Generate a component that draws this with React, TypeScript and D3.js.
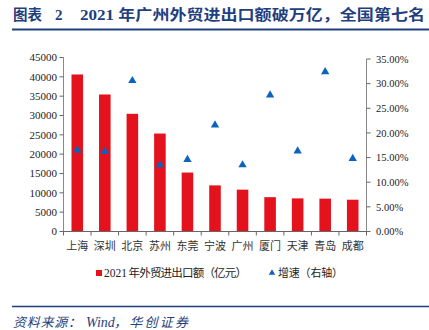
import React from "react";
import * as d3 from "d3";

const categories = ["上海", "深圳", "北京", "苏州", "东莞", "宁波", "广州", "厦门", "天津", "青岛", "成都"];
const tradeValues = [40610, 35435, 30438, 25332, 15247, 11926, 10825, 8877, 8567, 8498, 8222];
const growthRates = [16.5, 16.2, 30.6, 13.5, 14.6, 21.6, 13.5, 27.7, 16.3, 32.4, 14.8];
const leftTicks = [0, 5000, 10000, 15000, 20000, 25000, 30000, 35000, 40000, 45000];
const rightTicks = [0, 5, 10, 15, 20, 25, 30, 35];

const W = 429;
const H = 330;
const plotLeft = 63.5;
const plotRight = 366.5;
const plotTop = 57.5;
const plotBottom = 231.5;

const BLUE_TITLE = "#1F3F7E";
const RED = "#E3121C";
const TRI = "#0A64BE";

export default function App() {
  const x = d3.scaleBand<string>().domain(categories).range([plotLeft, plotRight]).paddingInner(0.58).paddingOuter(0.29);
  const yL = d3.scaleLinear().domain([0, 45000]).range([plotBottom, plotTop]);
  const yR = d3.scaleLinear().domain([0, 35]).range([plotBottom, 59]);
  const tri = d3.symbol().type(d3.symbolTriangle).size(30)();
  const serif = "'Liberation Serif', 'DejaVu Serif', serif";
  const cjk = "'Noto Sans CJK SC', sans-serif";
  const bandStep = (plotRight - plotLeft) / categories.length;

  return (
    <svg width={W} height={H} style={{ position: "absolute", left: 0, top: 0, background: "#fff" }}>
      {/* Title */}
      <text x={13} y={20} fill={BLUE_TITLE} fontFamily={cjk} fontWeight={700} fontSize={14.5}>图表</text>
      <text x={55} y={20} fill={BLUE_TITLE} fontFamily={serif} fontWeight={700} fontSize={15}>2</text>
      <text x={80} y={20} fill={BLUE_TITLE} fontFamily={cjk} fontWeight={700} fontSize={14.5} textLength={345} lengthAdjust="spacingAndGlyphs">
        <tspan fontFamily={serif}>2021 </tspan>年广州外贸进出口额破万亿，全国第七名
      </text>
      <line x1={12} x2={429} y1={29.5} y2={29.5} stroke={BLUE_TITLE} strokeWidth={2} />

      {/* Bars */}
      {categories.map((c, i) => (
        <rect key={c} x={x(c)} y={yL(tradeValues[i])} width={x.bandwidth()} height={plotBottom - yL(tradeValues[i])} fill={RED} />
      ))}

      {/* Left axis */}
      <line x1={plotLeft} x2={plotLeft} y1={plotTop} y2={plotBottom} stroke="#888" strokeWidth={1} />
      {leftTicks.map((t) => (
        <g key={t}>
          <line x1={plotLeft - 4} x2={plotLeft} y1={yL(t)} y2={yL(t)} stroke="#666" />
          <text x={57} y={yL(t)} dy="0.35em" textAnchor="end" fontFamily={serif} fontSize={11} fill="#222">{t}</text>
        </g>
      ))}

      {/* Right axis */}
      <line x1={plotRight} x2={plotRight} y1={yR(35)} y2={plotBottom} stroke="#888" strokeWidth={1} />
      {rightTicks.map((t) => (
        <g key={t}>
          <line x1={plotRight} x2={plotRight + 4} y1={yR(t)} y2={yR(t)} stroke="#666" />
          <text x={376} y={yR(t)} dy="0.35em" textAnchor="start" fontFamily={serif} fontSize={10.5} fill="#222">{t.toFixed(2)}%</text>
        </g>
      ))}

      {/* X axis */}
      <line x1={plotLeft - 2} x2={plotRight + 2} y1={plotBottom} y2={plotBottom} stroke="#666" strokeWidth={1} />
      {d3.range(categories.length + 1).map((i) => (
        <line key={i} x1={plotLeft + i * bandStep} x2={plotLeft + i * bandStep} y1={plotBottom} y2={plotBottom + 4} stroke="#666" />
      ))}
      {categories.map((c) => (
        <text key={c} x={(x(c) as number) + x.bandwidth() / 2} y={246} dy="0.35em" textAnchor="middle" fontFamily={cjk} fontSize={11} fill="#333">{c}</text>
      ))}

      {/* Triangles */}
      {categories.map((c, i) => (
        <path key={c} d={tri as string} transform={`translate(${(x(c) as number) + x.bandwidth() / 2},${yR(growthRates[i])})`} fill={TRI} />
      ))}

      {/* Legend */}
      <rect x={96} y={270} width={6} height={6} fill={RED} />
      <text x={104} y={273} dy="0.35em" fontFamily={serif} fontSize={11.5} fill="#222">2021</text>
      <text x={128.5} y={273} dy="0.35em" fontFamily={cjk} fontSize={11.5} fill="#222" textLength={118.5} lengthAdjust="spacing">年外贸进出口额（亿元）</text>
      <path d={d3.symbol().type(d3.symbolTriangle).size(18)() as string} transform="translate(272,273)" fill={TRI} />
      <text x={278} y={273} dy="0.35em" fontFamily={cjk} fontSize={11} fill="#222" textLength={65} lengthAdjust="spacing">增速（右轴）</text>

      {/* Footer */}
      <line x1={12} x2={429} y1={306.5} y2={306.5} stroke={BLUE_TITLE} strokeWidth={1.5} />
      <text x={13} y={327} fill={BLUE_TITLE} fontFamily={cjk} fontStyle="italic" fontSize={13} textLength={68} lengthAdjust="spacing">资料来源：</text>
      <text x={86} y={327} fill={BLUE_TITLE} fontFamily={serif} fontStyle="italic" fontSize={14}>Wind</text>
      <text x={114} y={327} fill={BLUE_TITLE} fontFamily={cjk} fontStyle="italic" fontSize={13} textLength={74} lengthAdjust="spacing">，华创证券</text>
    </svg>
  );
}
